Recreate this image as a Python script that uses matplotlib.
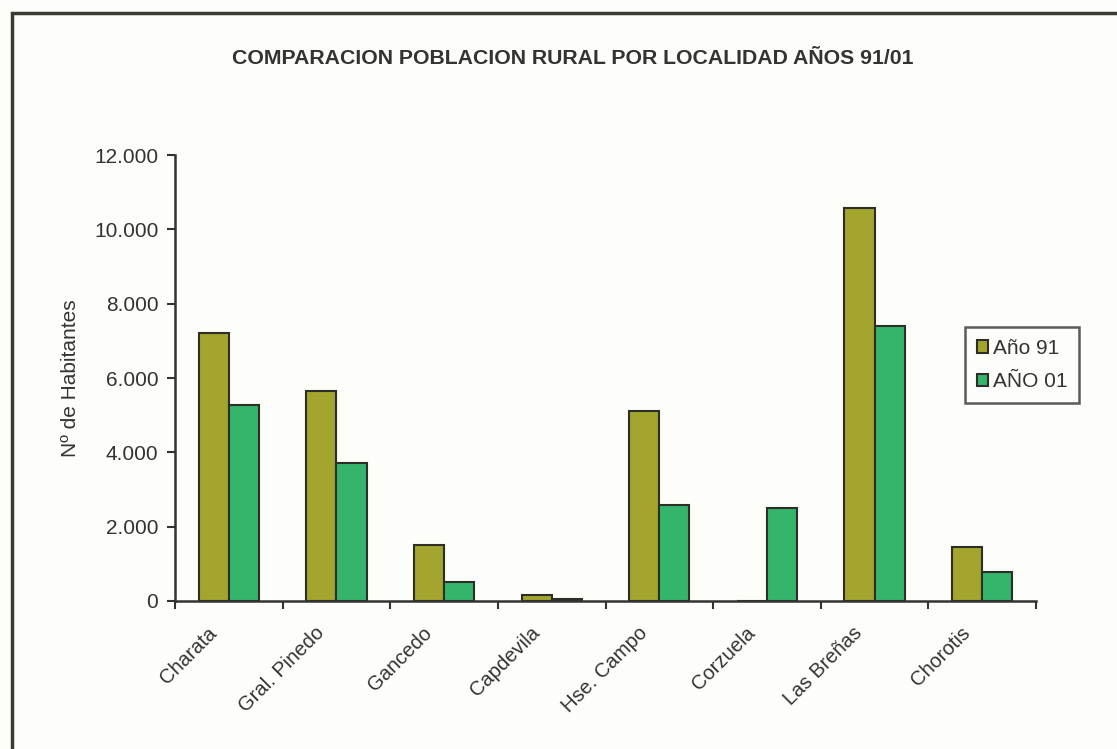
import numpy as np
import matplotlib.pyplot as plt
from matplotlib.patches import Rectangle

# data
localidades = ["Charata", "Gral. Pinedo", "Gancedo", "Capdevila",
               "Hse. Campo", "Corzuela", "Las Breñas", "Chorotis"]
anio_91 = [7200, 5640, 1500, 160, 5100, 0, 10580, 1450]
anio_01 = [5280, 3700, 500, 60, 2580, 2500, 7410, 780]
yticks = [0, 2000, 4000, 6000, 8000, 10000, 12000]
ytick_labels = ["0", "2.000", "4.000", "6.000", "8.000", "10.000", "12.000"]

plt.rcParams['font.family'] = ['Liberation Sans', 'DejaVu Sans']

fig = plt.figure(figsize=(11.17, 7.49), dpi=100, facecolor="#fdfdf9")
ax = fig.add_axes([0.1567, 0.1976, 0.7708, 0.5954])
ax.set_facecolor("#fdfdf9")

# outer frame (cut off at right and bottom as in the scan)
fig.patches.append(Rectangle((12 / 1117, -0.1), 1.2, 1 - 13 / 749 + 0.1,
                             transform=fig.transFigure, fill=False,
                             edgecolor="#3a3a32", linewidth=2.5))

x = np.arange(len(localidades))
w = 0.28
ax.bar(x - w / 2, anio_91, w, color="#a3a52e", edgecolor="#2e2e28",
       linewidth=1.5, label="Año 91")
ax.bar(x + w / 2, anio_01, w, color="#35b56c", edgecolor="#2e2e28",
       linewidth=1.5, label="AÑO 01")

ax.set_xlim(-0.5, len(localidades) - 0.5)
ax.set_ylim(0, 12000)
ax.set_yticks(yticks)
ax.set_yticklabels(ytick_labels, fontsize=15, color="#333333")
ax.set_xticks(np.arange(len(localidades) + 1) - 0.5)
ax.set_xticklabels([])
# rotated labels sit a little left of the group centre, as in the scan
ax.set_xticks(x - 0.14, minor=True)
ax.set_xticklabels(localidades, minor=True, rotation=45, ha="right",
                   va="center", fontsize=14.5, color="#333333",
                   rotation_mode="anchor")
ax.tick_params(axis="x", which="minor", length=0, pad=21)
ax.tick_params(axis="x", which="major", length=6, width=1.5, color="#333333")
ax.tick_params(axis="y", length=6, width=1.5, color="#333333", pad=6)

for s in ["top", "right"]:
    ax.spines[s].set_visible(False)
for s in ["left", "bottom"]:
    ax.spines[s].set_color("#333333")
    ax.spines[s].set_linewidth(1.8)

ax.set_ylabel("Nº de Habitantes", fontsize=15, color="#333333", labelpad=10)

fig.text(0.513, 0.922, "COMPARACION POBLACION RURAL POR LOCALIDAD AÑOS 91/01",
         ha="center", va="center", fontsize=15.3, fontweight="bold",
         color="#333333")

leg = fig.legend(loc="upper left", bbox_to_anchor=(0.864, 0.563),
                 borderaxespad=0, fontsize=15, frameon=True, fancybox=False,
                 handlelength=0.55, handleheight=0.55, handletextpad=0.25,
                 borderpad=0.55, labelspacing=0.7)
leg.get_frame().set_edgecolor("#333333")
leg.get_frame().set_linewidth(1.8)
leg.get_frame().set_facecolor("#fdfdf9")
for t in leg.get_texts():
    t.set_color("#333333")

fig.savefig("out.png", dpi=100, facecolor=fig.get_facecolor())
